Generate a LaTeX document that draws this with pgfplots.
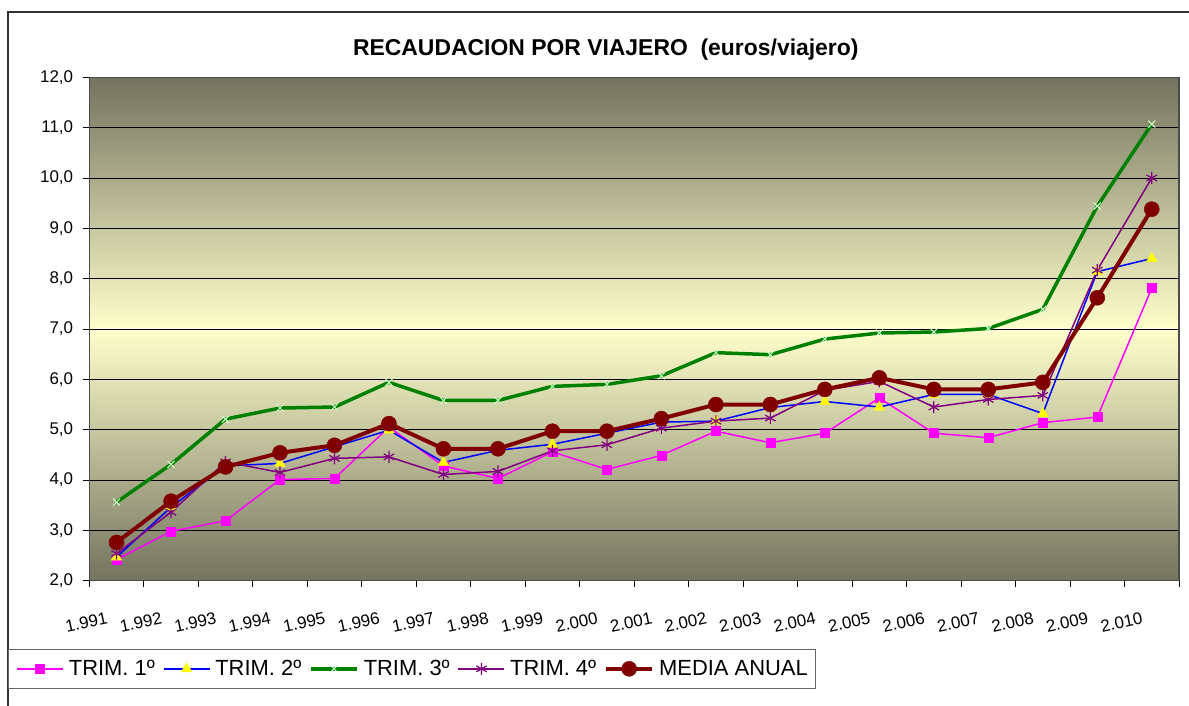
\documentclass[border=0pt]{standalone}
\usepackage{pgfplots}
\pgfplotsset{compat=1.18}
\usepackage{fontspec}
\setmainfont{Liberation Sans}
\definecolor{bgdark}{RGB}{115,115,95}
\definecolor{bglight}{RGB}{255,255,204}
\definecolor{tgreen}{RGB}{0,128,0}
\definecolor{xgreen}{RGB}{204,255,204}
\definecolor{tpurple}{RGB}{128,0,128}
\definecolor{tred}{RGB}{128,0,0}
\definecolor{tmag}{RGB}{255,0,255}
\definecolor{tblue}{RGB}{0,0,255}
\definecolor{tyellow}{RGB}{255,255,0}
\pgfdeclareverticalshading{bgshade}{100bp}{color(0bp)=(bgdark); color(25bp)=(bgdark); color(50bp)=(bglight); color(75bp)=(bgdark); color(100bp)=(bgdark)}
\begin{document}
\begin{tikzpicture}
\path[fill=white, use as bounding box] (0bp,0bp) rectangle (1189bp,706bp);
\draw[black!80, line width=1.5bp] (8bp,0bp) -- (8bp,694bp) -- (1189bp,694bp);
\begin{axis}[
  scale only axis,
  width=1089.7bp, height=503.4bp,
  at={(89.3bp,125.3bp)}, anchor=south west,
  xmin=-0.5, xmax=19.5, ymin=2, ymax=12,
  ytick={2,3,...,12},
  xtick={-0.5,0.5,...,19.5},
  xticklabels={1.991,1.992,1.993,1.994,1.995,1.996,1.997,1.998,1.999,2.000,2.001,2.002,2.003,2.004,2.005,2.006,2.007,2.008,2.009,2.010,{}},
  tick align=outside, tick pos=left,
  major tick length=6bp,
  tick style={black, line width=0.8bp},
  /pgf/number format/assume math mode=true,
  yticklabel style={/pgf/number format/fixed, /pgf/number format/fixed zerofill, /pgf/number format/precision=1, /pgf/number format/use comma, font=\fontsize{17}{20}\selectfont, anchor=east, inner sep=0bp, xshift=-10bp},
  xticklabel style={font=\fontsize{17}{20}\selectfont, anchor=center, inner sep=0bp, xshift=-3bp, yshift=-36bp, rotate=12},
  ymajorgrids,
  major grid style={black, line width=0.8bp},
  axis line style={black!70, line width=1.2bp},
  axis background/.style={shading=bgshade},
  title={RECAUDACION POR VIAJERO\ \ (euros/viajero)},
  title style={at={(0.474,1.044)}, anchor=center, yshift=0bp, inner sep=0bp, font=\bfseries\fontsize{23}{27}\selectfont},
  legend columns=5,
  legend style={at={(-0.0746,-0.1357)}, anchor=north west, draw=black!60, line width=0.8bp, fill=white,
    font=\fontsize{22}{26}\selectfont, inner xsep=8bp, inner ysep=11bp,
    nodes={inner sep=0bp},
    /tikz/every odd column/.append style={column sep=5bp},
    /tikz/every even column/.append style={column sep=8bp}},
  legend image code/.code={\draw[mark repeat=2,mark phase=2,#1] plot coordinates {(0bp,0bp)(23bp,0bp)(46bp,0bp)};},
]
\addplot[tmag, line width=1.5bp, mark=square*, mark size=4.5bp, mark options={fill=tmag, draw=tmag, line width=0.5bp}] coordinates {
(0,2.42)(1,2.98)(2,3.19)(3,4.01)(4,4.03)(5,5.05)(6,4.28)(7,4.03)(8,4.56)(9,4.21)(10,4.49)(11,4.97)(12,4.74)(13,4.93)(14,5.63)(15,4.93)(16,4.84)(17,5.14)(18,5.25)(19,7.81)};
\addlegendentry{TRIM. 1º}
\addplot[tblue, line width=1.5bp, mark=triangle*, mark size=6bp, mark options={fill=tyellow, draw=tyellow, line width=0.5bp}] coordinates {
(0,2.47)(1,3.46)(2,4.28)(3,4.33)(4,4.66)(5,4.99)(6,4.35)(7,4.59)(8,4.71)(9,4.93)(10,5.15)(11,5.17)(12,5.44)(13,5.56)(14,5.45)(15,5.70)(16,5.70)(17,5.32)(18,8.14)(19,8.40)};
\addlegendentry{TRIM. 2º}
\addplot[tgreen, line width=3.5bp, mark=x, mark size=5bp, mark options={draw=xgreen, line width=1bp}] coordinates {
(0,3.56)(1,4.31)(2,5.21)(3,5.43)(4,5.45)(5,5.94)(6,5.58)(7,5.58)(8,5.86)(9,5.90)(10,6.07)(11,6.53)(12,6.49)(13,6.80)(14,6.92)(15,6.94)(16,7.01)(17,7.39)(18,9.44)(19,11.07)};
\addlegendentry{TRIM. 3º}
\addplot[tpurple, line width=1.5bp, mark=asterisk, mark size=6bp, mark options={draw=tpurple, line width=1.2bp}] coordinates {
(0,2.54)(1,3.36)(2,4.36)(3,4.15)(4,4.43)(5,4.46)(6,4.11)(7,4.17)(8,4.58)(9,4.70)(10,5.03)(11,5.17)(12,5.23)(13,5.78)(14,5.96)(15,5.45)(16,5.60)(17,5.68)(18,8.17)(19,10.00)};
\addlegendentry{TRIM. 4º}
\addplot[tred, line width=4bp, mark=*, mark size=7.5bp, mark options={fill=tred, draw=tred, line width=0.5bp}] coordinates {
(0,2.76)(1,3.58)(2,4.26)(3,4.54)(4,4.69)(5,5.12)(6,4.62)(7,4.62)(8,4.97)(9,4.97)(10,5.22)(11,5.50)(12,5.50)(13,5.80)(14,6.03)(15,5.80)(16,5.80)(17,5.94)(18,7.62)(19,9.38)};
\addlegendentry{MEDIA ANUAL}
\end{axis}
\end{tikzpicture}
\end{document}
